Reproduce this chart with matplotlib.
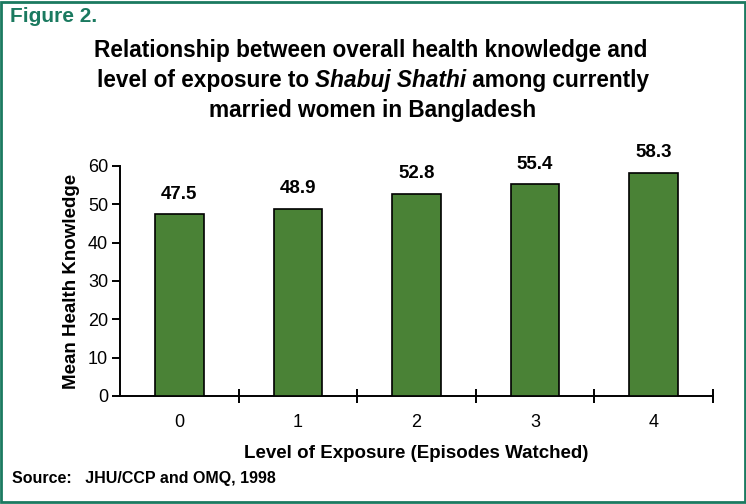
import matplotlib.pyplot as plt
from matplotlib.patches import Rectangle

plt.rcParams['font.family'] = ['Liberation Sans', 'DejaVu Sans']

exposure = ['0', '1', '2', '3', '4']
knowledge = [47.5, 48.9, 52.8, 55.4, 58.3]
y_ticks = [0, 10, 20, 30, 40, 50, 60]

bar_color = '#4a8236'
frame_color = '#1b7a60'

fig = plt.figure(figsize=(7.46, 5.04), dpi=100)
ax = fig.add_axes([120 / 746, 1 - 396 / 504, (713 - 120) / 746, (396 - 166) / 504])

x = list(range(len(exposure)))
ax.bar(x, knowledge, width=0.41, color=bar_color, edgecolor='black', linewidth=1.2, zorder=3)
for xi, v in zip(x, knowledge):
    ax.annotate(f'{v:.1f}', (xi, v), xytext=(0, 8), textcoords='offset points',
                ha='center', va='bottom', fontsize=13.5, fontweight='bold')

ax.set_xlim(-0.5, len(exposure) - 0.5)
ax.set_ylim(0, 60)
ax.set_yticks(y_ticks)
ax.set_xticks(x)
ax.set_xticklabels(exposure)
ax.set_xticks([i + 0.5 for i in x], minor=True)
ax.tick_params(axis='x', which='major', length=0, pad=13, labelsize=13)
ax.tick_params(axis='x', which='minor', direction='inout', length=10, width=1.4)
ax.tick_params(axis='y', direction='out', length=5.5, width=1.4, labelsize=13, pad=3)

for s in ['top', 'right']:
    ax.spines[s].set_visible(False)
for s in ['left', 'bottom']:
    ax.spines[s].set_linewidth(1.4)

ax.set_ylabel('Mean Health Knowledge', fontsize=13.5, fontweight='bold', labelpad=6)
ax.set_xlabel('Level of Exposure (Episodes Watched)', fontsize=13.5, fontweight='bold', labelpad=10)

# title, middle line has the programme name in italics
fig.text(371 / 746, 1 - 50 / 504, 'Relationship between overall health knowledge and',
         ha='center', va='center', fontsize=16.3, fontweight='bold')
fig.text(373 / 746, 1 - 110 / 504, 'married women in Bangladesh',
         ha='center', va='center', fontsize=16.3, fontweight='bold')

pieces = [('level of exposure to ', 'normal'), ('Shabuj Shathi', 'italic'), (' among currently', 'normal')]
renderer = fig.canvas.get_renderer()
texts = []
for s, style in pieces:
    t = fig.text(0, 1 - 80 / 504, s, ha='left', va='center', fontsize=16.3,
                 fontweight='bold', fontstyle=style)
    texts.append(t)
widths = [t.get_window_extent(renderer).width for t in texts]
x0 = 373 - sum(widths) / 2
for t, w in zip(texts, widths):
    t.set_x(x0 / 746)
    x0 += w

fig.text(10 / 746, 1 - 17 / 504, 'Figure 2.', ha='left', va='center', fontsize=15,
         fontweight='bold', color=frame_color)
fig.text(12 / 746, 1 - 478 / 504, 'Source:   JHU/CCP and OMQ, 1998', ha='left', va='center',
         fontsize=11.5, fontweight='bold')

fig.patches.append(Rectangle((0.002, 0.003), 0.996, 0.994, transform=fig.transFigure,
                             fill=False, edgecolor=frame_color, linewidth=2))

fig.savefig('out.png', dpi=100)
